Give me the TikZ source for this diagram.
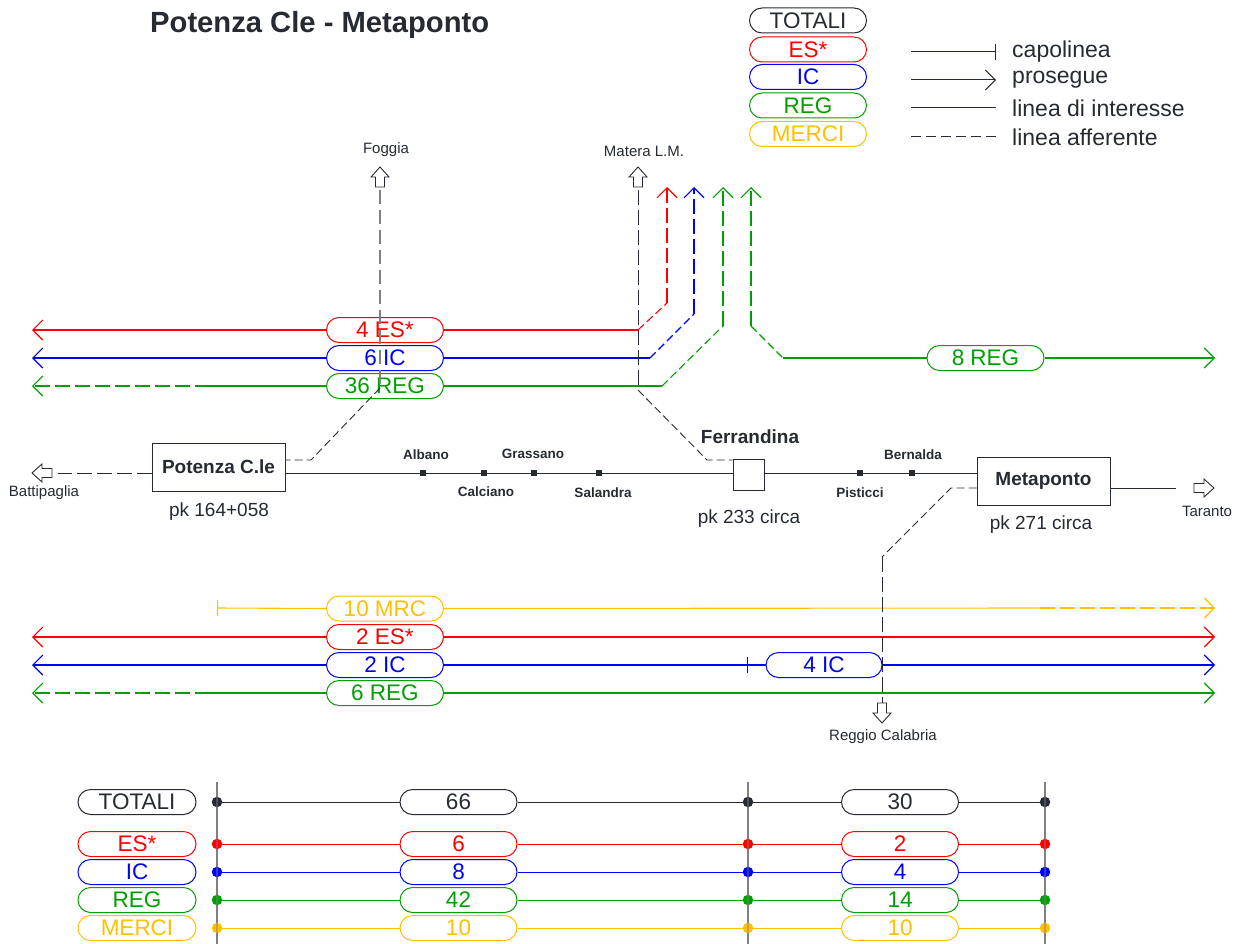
\documentclass[tikz,border=0pt]{standalone}
\usepackage{fontspec}
\setmainfont{Liberation Sans}
\usetikzlibrary{arrows.meta,shapes.misc}
\definecolor{cred}{RGB}{255,0,0}
\definecolor{cblue}{RGB}{0,0,255}
\definecolor{cgreen}{RGB}{0,160,0}
\definecolor{cyel}{RGB}{255,192,0}
\definecolor{cdark}{RGB}{38,43,51}
\definecolor{cgray}{RGB}{128,128,128}
\begin{document}
\begin{tikzpicture}[x=1pt,y=-1pt,
  pill/.style={rounded rectangle, draw=#1, text=#1, line width=1pt, fill=white,
    minimum width=117pt, minimum height=25pt, inner sep=0pt,
    font=\fontsize{22.5}{24}\selectfont},
  trk/.style={line width=1.1pt},
  tipo/.style={-{Straight Barb[length=10pt,width=20pt]}},
  tipbar/.style={{Bar[width=16pt]}-},
  dsh/.style={dash pattern=on 15pt off 5pt},
  dshs/.style={dash pattern=on 8pt off 4pt},
  stbox/.style={draw=cdark, line width=1pt, fill=white, text=cdark, inner sep=0pt,
    font=\bfseries\fontsize{19}{21}\selectfont},
  sq/.style={fill=cdark, minimum size=6pt, inner sep=0pt},
  stname/.style={text=cdark, inner sep=0pt, font=\bfseries\fontsize{13.5}{15}\selectfont},
  dirtxt/.style={text=cdark, inner sep=0pt, font=\fontsize{15}{17}\selectfont},
  pktxt/.style={text=cdark, inner sep=0pt, font=\fontsize{19}{21}\selectfont},
  lgtxt/.style={text=cdark, inner sep=0pt, anchor=west, font=\fontsize{23}{25}\selectfont},
  dot/.style={circle, fill=#1, inner sep=0pt, minimum size=10.5pt},
  barr/.pic={\draw[cdark, line width=0.9pt, fill=white]
    (0,-4.5) -- (10,-4.5) -- (10,-9) -- (20,0) -- (10,9) -- (10,4.5) -- (0,4.5) -- cycle;}
]
\useasboundingbox (0,0) rectangle (1241,944);

% ---------- title
\node[anchor=base west, inner sep=0pt, text=cdark,
  font=\bfseries\fontsize{29.2}{31}\selectfont] (title) at (150,33) {Potenza Cle - Metaponto};

% ---------- legend
\node[pill=cdark] (lgT) at (808,20.5) {TOTALI};
\node[pill=cred] (lgE) at (808,49.5) {ES*};
\node[pill=cblue] (lgI) at (808,77) {IC};
\node[pill=cgreen] (lgR) at (808,105.5) {REG};
\node[pill=cyel] (lgM) at (808,134) {MERCI};
\coordinate (k1a) at (911,52);  \coordinate (k1b) at (996,52);
\coordinate (k2a) at (911,80);  \coordinate (k2b) at (996,80);
\coordinate (k3a) at (911,108); \coordinate (k3b) at (996,108);
\coordinate (k4a) at (911,137); \coordinate (k4b) at (996,137);
\draw[cdark, line width=1pt, -{Bar[width=16pt]}] (k1a) -- (k1b);
\draw[cdark, line width=1pt, -{Straight Barb[length=10pt,width=20pt]}] (k2a) -- (k2b);
\draw[cdark, line width=1pt] (k3a) -- (k3b);
\draw[cdark, line width=1pt, dash pattern=on 10pt off 5pt] (k4a) -- (k4b);
\node[lgtxt] (kt1) at (1012,52) {capolinea};
\node[lgtxt] (kt2) at (1012,80) {prosegue};
\node[lgtxt] (kt3) at (1012,108) {linea di interesse};
\node[lgtxt] (kt4) at (1012,137) {linea afferente};

% ---------- upper flows
\node[pill=cred] (u1) at (385,330) {4 ES*};
\node[pill=cblue] (u2) at (385,358) {6 IC};
\node[pill=cgreen] (u3) at (385,386) {36 REG};
\node[pill=cgreen] (u4) at (985.5,358) {8 REG};

\coordinate (rL) at (32,330);  \coordinate (r1) at (638,330);
\coordinate (r2) at (667,303); \coordinate (r3) at (667,187);
\draw[trk, cred, tipo] (u1.west) -- (rL);
\draw[trk, cred] (u1.east) -- (r1);
\draw[trk, cred, dshs] (r1) -- (r2);
\draw[trk, cred, dsh, tipo] (r2) -- (r3);

\coordinate (bL) at (32,358);  \coordinate (b1) at (650,358);
\coordinate (b2) at (694,314); \coordinate (b3) at (694,187);
\draw[trk, cblue, tipo] (u2.west) -- (bL);
\draw[trk, cblue] (u2.east) -- (b1);
\draw[trk, cblue, dshs] (b1) -- (b2);
\draw[trk, cblue, dsh, tipo] (b2) -- (b3);

\coordinate (gL) at (32,386);  \coordinate (g0) at (210,386);
\coordinate (g1) at (662,386); \coordinate (g2) at (723,326); \coordinate (g3) at (723,187);
\draw[trk, cgreen] (u3.west) -- (g0);
\draw[trk, cgreen, dsh, tipo] (g0) -- (gL);
\draw[trk, cgreen] (u3.east) -- (g1);
\draw[trk, cgreen, dshs] (g1) -- (g2);
\draw[trk, cgreen, dsh, tipo] (g2) -- (g3);

\coordinate (h3) at (751,187); \coordinate (h2) at (751,326);
\coordinate (h1) at (783,358); \coordinate (hR) at (1215,358);
\draw[trk, cgreen, dsh, tipo] (h2) -- (h3);
\draw[trk, cgreen, dshs] (h2) -- (h1);
\draw[trk, cgreen] (h1) -- (u4.west);
\draw[trk, cgreen, tipo] (u4.east) -- (hR);

% ---------- Foggia and Matera branches
\pic[rotate=90] at (380,187) {barr};
\pic[rotate=90] at (638,187) {barr};
\node[dirtxt] (lbF) at (386,150) {Foggia};
\node[dirtxt] (lbM) at (644,151) {Matera L.M.};

% ---------- stations and main line
\coordinate (ml) at (0,473);
\coordinate (mr) at (0,488);
\node[stbox, minimum width=133pt, minimum height=48pt] (pot) at (218.5,467) {Potenza C.le};
\node[stbox, minimum width=31pt, minimum height=31pt] (fer) at (748.5,474.5) {};
\node[stbox, minimum width=133pt, minimum height=48pt] (met) at (1043.5,481) {Metaponto};

\coordinate (fgT) at (380,190); \coordinate (fg1) at (380,388); \coordinate (fg2) at (311,460);
\draw[cgray, line width=1.1pt, dash pattern=on 14pt off 6pt] (fgT) -- (fg1);
\draw[cdark, line width=0.9pt, dshs] (fg1) -- (fg2) -- (pot.east |- fg2);

\coordinate (mtT) at (638,190); \coordinate (mt1) at (638,390); \coordinate (mt2) at (707,460);
\draw[cdark, line width=0.9pt, dsh] (mtT) -- (mt1);
\draw[cdark, line width=0.9pt, dshs] (mt1) -- (mt2) -- (fer.west |- mt2);

\draw[cdark, line width=1pt] (pot.east |- ml) -- (fer.west |- ml);
\draw[cdark, line width=1pt] (fer.east |- ml) -- (met.west |- ml);
\coordinate (tarL) at (1176,488);
\draw[cdark, line width=1pt] (met.east |- mr) -- (tarL);
\pic at (1194,488) {barr};
\coordinate (batR) at (58,473);
\draw[cdark, line width=1pt, dsh] (pot.west |- ml) -- (batR);
\pic[rotate=180] at (52,473) {barr};

\node[sq] (sAlb) at (423,473) {};
\node[sq] (sCal) at (484,473) {};
\node[sq] (sGra) at (534,473) {};
\node[sq] (sSal) at (599,473) {};
\node[sq] (sPis) at (860,473) {};
\node[sq] (sBer) at (912,473) {};
\node[stname] (nAlb) at (426,455) {Albano};
\node[stname] (nCal) at (486,492) {Calciano};
\node[stname] (nGra) at (533,454) {Grassano};
\node[stname] (nSal) at (603,493) {Salandra};
\node[stname] (nPis) at (860,493) {Pisticci};
\node[stname] (nBer) at (913,455) {Bernalda};
\node[stname, font=\bfseries\fontsize{19}{21}\selectfont] (nFer) at (750,437) {Ferrandina};

\node[pktxt] (pk1) at (219,512) {pk 164+058};
\node[pktxt] (pk2) at (749,519) {pk 233 circa};
\node[pktxt] (pk3) at (1041,525) {pk 271 circa};
\node[dirtxt] (lbB) at (44,493) {Battipaglia};
\node[dirtxt] (lbT) at (1207,511) {Taranto};

% ---------- lower flows
\node[pill=cyel] (l1) at (385,608.5) {10 MRC};
\node[pill=cred] (l2) at (385,637) {2 ES*};
\node[pill=cblue] (l3) at (385,665) {2 IC};
\node[pill=cgreen] (l4) at (385,693) {6 REG};
\node[pill=cblue, minimum width=116pt] (l5) at (824,665) {4 IC};

\coordinate (yL) at (217,608); \coordinate (y1) at (1040,608); \coordinate (yR) at (1215,608);
\draw[trk, cyel, tipbar] (yL) -- (l1.west);
\draw[trk, cyel] (l1.east) -- (y1);
\draw[trk, cyel, dsh, tipo] (y1) -- (yR);

\coordinate (eL) at (32,637); \coordinate (eR) at (1215,637);
\draw[trk, cred, tipo] (l2.west) -- (eL);
\draw[trk, cred, tipo] (l2.east) -- (eR);

\coordinate (iL) at (32,665); \coordinate (iB) at (748,665); \coordinate (iR) at (1215,665);
\draw[trk, cblue, tipo] (l3.west) -- (iL);
\draw[trk, cblue, -{Bar[width=16pt]}] (l3.east) -- (iB);
\draw[trk, cblue] (iB) -- (l5.west);
\draw[trk, cblue, tipo] (l5.east) -- (iR);

\coordinate (jL) at (32,693); \coordinate (j0) at (210,693); \coordinate (jR) at (1215,693);
\draw[trk, cgreen] (l4.west) -- (j0);
\draw[trk, cgreen, dsh, tipo] (j0) -- (jL);
\draw[trk, cgreen, tipo] (l4.east) -- (jR);

% ---------- Reggio branch
\coordinate (rg1) at (951,488); \coordinate (rg2) at (882,557); \coordinate (rg3) at (882,703);
\draw[cdark, line width=0.9pt, dshs] (met.west |- mr) -- (rg1) -- (rg2);
\draw[cdark, line width=0.9pt, dsh] (rg2) -- (rg3);
\pic[rotate=-90] at (882,703) {barr};
\node[dirtxt] (lbR) at (883,737) {Reggio Calabria};

% ---------- summary table
\coordinate (ax1t) at (217,782); \coordinate (ax1b) at (217,944);
\coordinate (ax2t) at (748,782); \coordinate (ax2b) at (748,944);
\coordinate (ax3t) at (1045,782); \coordinate (ax3b) at (1045,944);
\draw[cgray, line width=1.8pt] (ax1t) -- (ax1b);
\draw[cgray, line width=1.8pt] (ax2t) -- (ax2b);
\draw[cgray, line width=1.8pt] (ax3t) -- (ax3b);
\foreach \yy/\cc/\nm/\aa/\bb/\rr in {802/cdark/TOTALI/66/30/0, 844/cred/ES*/6/2/1,
    872/cblue/IC/8/4/2, 900/cgreen/REG/42/14/3, 928/cyel/MERCI/10/10/4}{
  \node[pill=\cc, minimum width=118pt] (tn\rr) at (137,\yy) {\nm};
  \node[pill=\cc] (ta\rr) at (458.5,\yy) {\aa};
  \node[pill=\cc] (tb\rr) at (900,\yy) {\bb};
  \node[dot=\cc] (d1\rr) at (217,\yy) {};
  \node[dot=\cc] (d2\rr) at (748,\yy) {};
  \node[dot=\cc] (d3\rr) at (1045,\yy) {};
  \draw[\cc, line width=1pt] (d1\rr) -- (ta\rr.west);
  \draw[\cc, line width=1pt] (ta\rr.east) -- (d2\rr) -- (tb\rr.west);
  \draw[\cc, line width=1pt] (tb\rr.east) -- (d3\rr);
}
\draw[cgray, line width=1.2pt, opacity=0.45] (ax1t) -- (ax1b);
\draw[cgray, line width=1.2pt, opacity=0.45] (ax2t) -- (ax2b);
\draw[cgray, line width=1.2pt, opacity=0.45] (ax3t) -- (ax3b);
\end{tikzpicture}
\end{document}
